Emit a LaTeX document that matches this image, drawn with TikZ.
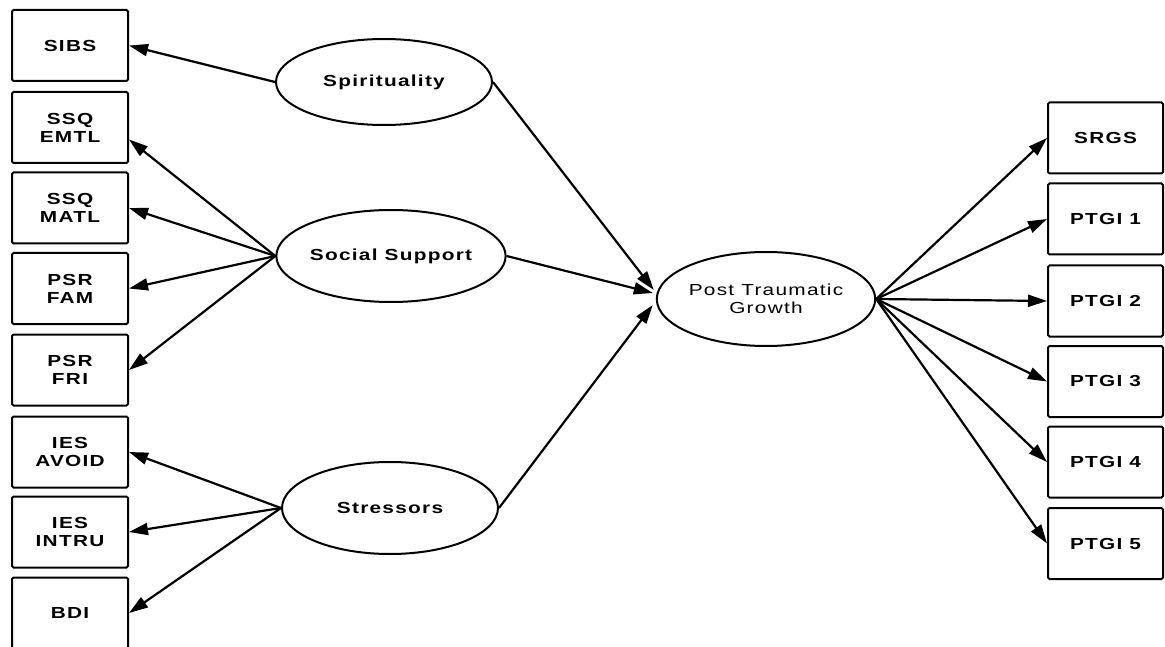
\documentclass[tikz,border=0pt]{standalone}
\usepackage{fontspec}
\newfontfamily\lblfont[FakeStretch=1.3,LetterSpace=8]{Liberation Sans}
\usetikzlibrary{shapes.geometric,arrows.meta,calc}
\begin{document}
\begin{tikzpicture}[x=1pt,y=-1pt,
  obs/.style={draw,line width=2pt,rounded corners=1.5pt,minimum width=116pt,
    minimum height=71pt,inner sep=0pt,align=center,
    font=\lblfont\bfseries\fontsize{16}{18}\selectfont},
  lat/.style={draw,ellipse,line width=2pt,minimum width=216pt,minimum height=88pt,
    inner sep=0pt,align=center,font=\lblfont\bfseries\fontsize{16}{18}\selectfont},
  link/.style={line width=2.2pt,-{Triangle[length=19pt,width=12pt]}}
]
\useasboundingbox (0,0) rectangle (1165,647);
\clip (0,0) rectangle (1165,647);
\fill[white] (0,0) rectangle (1165,647);

% observed indicators, left column
\node[obs] (sibs)  at (70,45.5)  {SIBS};
\node[obs] (emtl)  at (70,127.5) {SSQ\\EMTL};
\node[obs] (matl)  at (70,208)   {SSQ\\MATL};
\node[obs] (fam)   at (70,288.5) {PSR\\FAM};
\node[obs] (fri)   at (70,370)   {PSR\\FRI};
\node[obs] (avoid) at (70,452)   {IES\\AVOID};
\node[obs] (intru) at (70,532)   {IES\\INTRU};
\node[obs] (bdi)   at (70,613)   {BDI};

% observed indicators, right column
\node[obs,minimum width=115pt] (srgs)  at (1105.5,138)   {SRGS};
\node[obs,minimum width=115pt] (ptgi1) at (1105.5,219)   {PTGI 1};
\node[obs,minimum width=115pt] (ptgi2) at (1105.5,301)   {PTGI 2};
\node[obs,minimum width=115pt] (ptgi3) at (1105.5,381.5) {PTGI 3};
\node[obs,minimum width=115pt] (ptgi4) at (1105.5,462)   {PTGI 4};
\node[obs,minimum width=115pt] (ptgi5) at (1105.5,543.5) {PTGI 5};

% latent constructs
\node[lat,minimum height=86pt] (spir) at (384,82)  {Spirituality};
\node[lat,minimum height=92pt,minimum width=218pt] (soc)  at (391,256) {Social Support};
\node[lat,minimum height=92pt] (str)  at (390,508) {Stressors};
\node[lat,minimum height=94pt,minimum width=214pt,
      font=\lblfont\fontsize{16}{18}\selectfont] (ptg) at (766,299) {Post Traumatic\\Growth};

% measurement paths
\draw[link] (spir.west) -- (sibs.east);
\draw[link] (soc.west) -- ($(emtl.east)+(0,12)$);
\draw[link] (soc.west) -- (matl.east);
\draw[link] (soc.west) -- (fam.east);
\draw[link] (soc.west) -- (fri.east);
\draw[link] (str.west) -- (avoid.east);
\draw[link] (str.west) -- (intru.east);
\draw[link] (str.west) -- (bdi.east);

% structural paths
\draw[link] (spir.east) -- ($(ptg.west)+(-2,-9)$);
\draw[link] (soc.east)  -- ($(ptg.west)+(-3,-6)$);
\draw[link] (str.east)  -- ($(ptg.west)+(-3,6)$);

% growth indicators
\draw[link] (ptg.east) -- (srgs.west);
\draw[link] (ptg.east) -- (ptgi1.west);
\draw[link] (ptg.east) -- (ptgi2.west);
\draw[link] (ptg.east) -- (ptgi3.west);
\draw[link] (ptg.east) -- (ptgi4.west);
\draw[link] (ptg.east) -- (ptgi5.west);
\end{tikzpicture}
\end{document}
